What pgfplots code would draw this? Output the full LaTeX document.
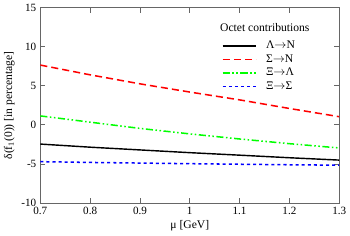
\documentclass[border=0pt]{standalone}
\usepackage{fontspec}
\setmainfont{Liberation Serif}
\usepackage{pgfplots}
\pgfplotsset{compat=1.18}
\newcommand{\arr}{\ensuremath{\rightarrow}}
\begin{document}
\fontsize{11.5}{13}\selectfont
\begin{tikzpicture}
\begin{axis}[
  scale only axis,
  width=295bp, height=193bp,
  xmin=0.7, xmax=1.3, ymin=-10, ymax=15,
  xtick={0.7,0.8,...,1.3},
  ytick={-10,-5,0,5,10,15},
  xticklabels={0.7,0.8,0.9,1,1.1,1.2,1.3},
  /pgf/number format/assume math mode=true,
  tick align=inside,
  major tick length=5bp,
  axis line style={draw=black!60, line width=1.2bp},
  every tick/.style={draw=black!60, line width=0.9bp},
  tick label style={font=\fontsize{11}{13}\selectfont},
  label style={font=\fontsize{11.5}{13}\selectfont},
  xlabel={μ [GeV]},
  ylabel={δ(f\textsubscript{1}(0)) [in percentage]},
  xlabel style={yshift=2bp},
  ylabel style={yshift=-1bp},
  legend style={draw=none, fill=none, inner sep=0pt, at={(axis description cs:0.607,0.836)}, anchor=north west,
    font=\fontsize{11.5}{13}\selectfont, row sep=1.3bp, column sep=8bp,
    nodes={inner sep=1bp, text height=8bp, text depth=2bp}},
  legend cell align=left,
  legend image code/.code={\draw[mark repeat=2,mark phase=2,#1] plot coordinates {(0bp,0bp) (16bp,0bp) (33bp,0bp)};},
]
\addplot[black, line width=1.4bp] coordinates {(0.7,-2.45) (0.8,-2.85) (0.9,-3.2) (1.0,-3.55) (1.1,-3.87) (1.2,-4.2) (1.3,-4.5)};
\addlegendentry{Λ\arr N}
\addplot[red, line width=1.5bp, dash pattern=on 7bp off 4bp] coordinates {(0.7,7.65) (0.8,6.4) (0.9,5.25) (1.0,4.2) (1.1,3.2) (1.2,2.1) (1.3,1.05)};
\addlegendentry{Σ\arr N}
\addplot[green, line width=1.5bp, dash pattern=on 7bp off 2.5bp on 1.5bp off 2.5bp on 1.5bp off 2.5bp] coordinates {(0.7,1.15) (0.8,0.35) (0.9,-0.45) (1.0,-1.15) (1.1,-1.8) (1.2,-2.4) (1.3,-2.95)};
\addlegendentry{Ξ\arr Λ}
\addplot[blue, line width=1.5bp, dash pattern=on 3bp off 3bp] coordinates {(0.7,-4.7) (0.8,-4.8) (0.9,-4.88) (1.0,-4.96) (1.1,-5.03) (1.2,-5.1) (1.3,-5.15)};
\addlegendentry{Ξ\arr Σ}
\node[anchor=center, font=\fontsize{11.5}{13}\selectfont] at (axis description cs:0.751,0.896) {Octet contributions};
\end{axis}
\end{tikzpicture}
\end{document}
